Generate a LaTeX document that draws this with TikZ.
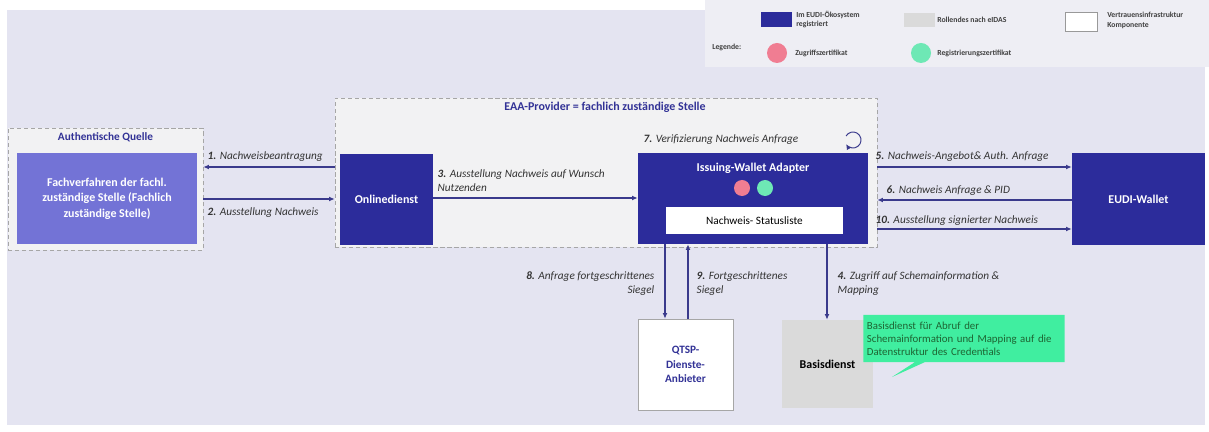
\documentclass[tikz,border=0pt]{standalone}
\usepackage{fontspec}
\setmainfont{Carlito}
\usetikzlibrary{arrows.meta,shapes.callouts}

\definecolor{eudiblue}{RGB}{44,44,155}
\definecolor{fachblue}{RGB}{115,115,214}
\definecolor{canvas}{RGB}{228,228,241}
\definecolor{zonefill}{RGB}{242,242,243}
\definecolor{legendfill}{RGB}{238,238,244}
\definecolor{flowcol}{RGB}{58,58,140}
\definecolor{zertpink}{RGB}{240,125,146}
\definecolor{zertgreen}{RGB}{110,232,181}
\definecolor{notegreen}{RGB}{64,238,160}
\definecolor{notetext}{RGB}{30,100,50}
\definecolor{rollgray}{RGB}{218,218,218}
\definecolor{titleblue}{RGB}{50,50,150}

\begin{document}
\begin{tikzpicture}[x=0.025cm,y=-0.025cm,
    flow/.style={draw=flowcol,line width=0.9pt,-{Latex[length=4pt,width=3.5pt]}},
    zone/.style={draw=gray!70,dash pattern=on 3pt off 2pt,fill=zonefill,inner sep=0pt},
    actor/.style={fill=eudiblue,text=white,font=\fontsize{8.5}{10.5}\selectfont\bfseries,align=center,inner sep=0pt},
    lbl/.style={font=\fontsize{8}{10}\selectfont\itshape,text=black!80,inner sep=1pt},
    legtext/.style={font=\fontsize{5.5}{7}\selectfont\bfseries,text=black!75,anchor=west,align=left,inner sep=0pt},
    zert/.style={circle,minimum size=0.4cm,inner sep=0pt}]

    % Canvas
    \useasboundingbox (0,0) rectangle (1209,432);
    \fill[white] (0,0) rectangle (1209,432);
    \fill[canvas] (7,10) rectangle (1205,425);

    % Legend
    \fill[legendfill] (705,0) rectangle (1209,67);
    \node[fill=eudiblue,minimum width=0.775cm,minimum height=0.375cm,inner sep=0pt] (leg-reg) at (776.5,19.5) {};
    \node[legtext] (leg-reg-t) at (796,19.5) {Im EUDI-Ökosystem\\registriert};
    \node[fill=rollgray,minimum width=0.775cm,minimum height=0.35cm,inner sep=0pt] (leg-roll) at (919.5,20) {};
    \node[legtext] (leg-roll-t) at (937,20) {Rollendes nach eIDAS};
    \node[draw=gray!80,fill=white,minimum width=0.8cm,minimum height=0.475cm,inner sep=0pt] (leg-vi) at (1081,21.5) {};
    \node[legtext] (leg-vi-t) at (1107,20) {Vertrauensinfrastruktur\\Komponente};
    \node[legtext] (leg-title) at (712,47) {Legende:};
    \node[zert,fill=zertpink,minimum size=0.5cm] (leg-zug) at (777,53) {};
    \node[legtext] (leg-zug-t) at (795,53) {Zugriffszertifikat};
    \node[zert,fill=zertgreen,minimum size=0.5cm] (leg-regz) at (921,53) {};
    \node[legtext] (leg-regz-t) at (937,53) {Registrierungszertifikat};

    % Zones
    \node[zone,minimum width=4.875cm,minimum height=3.05cm] (aq) at (105.5,189) {};
    \node[font=\fontsize{8}{10}\selectfont\bfseries,text=titleblue] (aq-title) at (105.5,137) {Authentische Quelle};
    \node[zone,minimum width=13.55cm,minimum height=3.725cm] (eaa) at (606,172.5) {};
    \node[font=\fontsize{8.5}{10}\selectfont\bfseries,text=titleblue] (eaa-title) at (605,107) {EAA-Provider = fachlich zuständige Stelle};

    % Actors
    \node[actor,fill=fachblue,minimum width=4.5cm,minimum height=2.275cm,font=\fontsize{8.5}{11}\selectfont\bfseries] (fach) at (107,198.5)
        {Fachverfahren der fachl.\\zuständige Stelle (Fachlich\\zuständige Stelle)};
    \node[actor,minimum width=2.325cm,minimum height=2.275cm] (online) at (386.5,199.5) {Onlinedienst};
    \node[actor,minimum width=5.75cm,minimum height=2.275cm] (iwa) at (753,198.5) {};
    \node[text=white,font=\fontsize{8.5}{10}\selectfont\bfseries] (iwa-title) at (753,168) {Issuing-Wallet Adapter};
    \node[zert,fill=zertpink] (iwa-zug) at (742,188) {};
    \node[zert,fill=zertgreen] (iwa-reg) at (765,188) {};
    \node[fill=white,minimum width=4.425cm,minimum height=0.675cm,inner sep=0pt,font=\fontsize{8}{10}\selectfont] (status) at (754.5,220.5) {Nachweis- Statusliste};
    \node[actor,minimum width=3.325cm,minimum height=2.3cm] (eudi) at (1138.5,199) {EUDI-Wallet};
    \node[draw=gray!70,fill=white,minimum width=2.375cm,minimum height=2.275cm,align=center,inner sep=0pt,font=\fontsize{8}{10.5}\selectfont\bfseries,text=titleblue] (qtsp) at (685.5,364.5) {QTSP-\\Dienste-\\Anbieter};
    \node[fill=rollgray,minimum width=2.275cm,minimum height=2.2cm,inner sep=0pt,font=\fontsize{8.5}{10}\selectfont\bfseries] (basis) at (827.5,364) {Basisdienst};

    % Note
    \node[rectangle callout,fill=notegreen,minimum height=1.175cm,text width=4.85cm,align=left,inner sep=2.5pt,
          font=\fontsize{7.7}{9.3}\selectfont,text=notetext,callout absolute pointer={(892,377)}] (note) at (964,338.5)
        {Basisdienst für Abruf der\\Schemainformation und Mapping auf die\\Datenstruktur des Credentials};

    % Flows
    \draw[flow] (eaa.west |- 0,167) -- (aq.east |- 0,167);
    \node[lbl,anchor=west] (l1) at (206,157) {\textbf{1.} Nachweisbeantragung};
    \draw[flow] (aq.east |- 0,199) -- (eaa.west |- 0,199);
    \node[lbl,anchor=west] (l2) at (206,213) {\textbf{2.} Ausstellung Nachweis};
    \draw[flow] (online.east |- 0,198) -- (iwa.west |- 0,198);
    \node[lbl,anchor=north west,align=left] (l3) at (436,168) {\textbf{3.} Ausstellung Nachweis auf Wunsch\\Nutzenden};
    \draw[flow] (eaa.east |- 0,167) -- (eudi.west |- 0,167);
    \node[lbl,anchor=west] (l5) at (874,157) {\textbf{5.} Nachweis-Angebot\& Auth. Anfrage};
    \draw[flow] (eudi.west |- 0,200) -- (eaa.east |- 0,200);
    \node[lbl,anchor=west] (l6) at (885,191) {\textbf{6.} Nachweis Anfrage \& PID};
    \draw[flow] (eaa.east |- 0,229) -- (eudi.west |- 0,229);
    \node[lbl,anchor=west] (l10) at (874,221) {\textbf{10.} Ausstellung signierter Nachweis};
    \draw[flow] (iwa.south -| 665,0) -- (qtsp.north -| 665,0);
    \node[lbl,anchor=north east,align=right] (l8) at (656,270) {\textbf{8.} Anfrage fortgeschrittenes\\Siegel};
    \draw[flow] (qtsp.north -| 688,0) -- (iwa.south -| 688,0);
    \node[lbl,anchor=north west,align=left] (l9) at (695,270) {\textbf{9.} Fortgeschrittenes\\Siegel};
    \draw[flow] (iwa.south -| 827,0) -- (basis.north -| 827,0);
    \node[lbl,anchor=north west,align=left] (l4) at (836,270) {\textbf{4.} Zugriff auf Schemainformation \&\\Mapping};

    % Self check
    \coordinate (loopc) at (853,140);
    \draw[flow,line width=0.7pt] ([shift={(-150:8)}]loopc) arc[start angle=-150,end angle=150,radius=8];
    \node[lbl,anchor=west] (l7) at (642,140) {\textbf{7.} Verifizierung Nachweis Anfrage};
\end{tikzpicture}
\end{document}
